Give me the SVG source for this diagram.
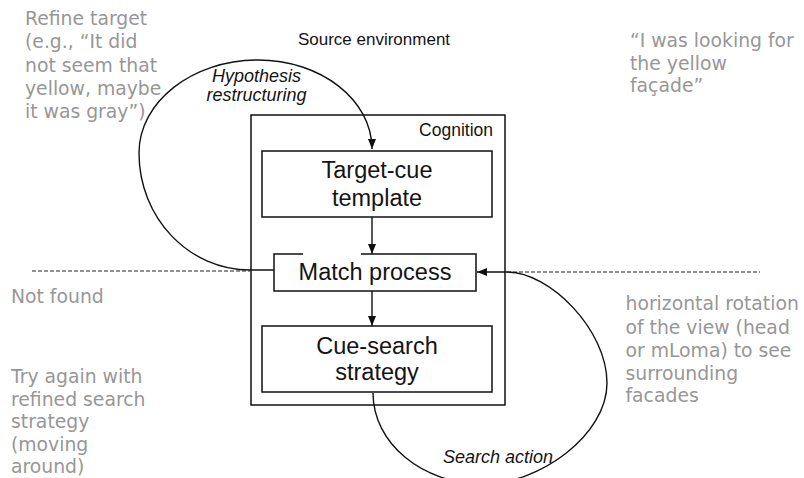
<svg xmlns="http://www.w3.org/2000/svg" width="804" height="478" viewBox="0 0 804 478">
  <style>
    .box { fill: none; stroke: #111; stroke-width: 1.5; }
    .label { font-family: "Liberation Sans", Arial, sans-serif; fill: #141414; }
    .big { font-size: 23.5px; text-anchor: middle; }
    .ital { font-style: italic; font-size: 18px; }
    .note { font-family: "DejaVu Sans", Verdana, sans-serif; font-size: 18.8px; fill: #979797; }
    .flow { fill: none; stroke: #111; stroke-width: 1.4; }
    .dash { fill: none; stroke: #6e6e6e; stroke-width: 1.3; stroke-dasharray: 4 2; }
  </style>
  <defs>
    <marker id="arrow" viewBox="0 0 10 8" refX="10" refY="4" markerWidth="10" markerHeight="8" markerUnits="userSpaceOnUse" orient="auto">
      <path d="M0,0 L10,4 L0,8 z" fill="#111"/>
    </marker>
  </defs>

  <rect width="804" height="478" fill="#ffffff"/>

  <!-- environment title -->
  <text class="label" x="374" y="45" font-size="17" text-anchor="middle" fill="#000">Source environment</text>

  <!-- cognition frame -->
  <g id="cognition">
    <rect class="box" x="251" y="115" width="254" height="290"/>
    <text class="label" x="493" y="136" font-size="17.5" text-anchor="end">Cognition</text>
  </g>

  <g id="target-cue-template">
    <rect class="box" x="262" y="151" width="230" height="66"/>
    <text class="label big" x="377" y="178">Target-cue</text>
    <text class="label big" x="377" y="206">template</text>
  </g>

  <g id="match-process">
    <path class="box" d="M303 254 L274 254 L274 291 L476 291 L476 254 L361 254"/>
    <text class="label big" x="375" y="280">Match process</text>
  </g>

  <g id="cue-search-strategy">
    <rect class="box" x="262" y="326" width="230" height="66"/>
    <text class="label big" x="377" y="354">Cue-search</text>
    <text class="label big" x="377" y="380">strategy</text>
  </g>

  <!-- connectors -->
  <g id="connectors">
    <line class="dash" x1="32" y1="271" x2="250" y2="271"/>
    <line class="dash" x1="507" y1="272" x2="760" y2="272"/>
    <line class="flow" x1="372" y1="217" x2="372" y2="254" marker-end="url(#arrow)"/>
    <line class="flow" x1="372" y1="291" x2="372" y2="326" marker-end="url(#arrow)"/>
    <!-- hypothesis restructuring loop -->
    <path class="flow" d="M274 270 L250 270 C189 270 139 218 139 153 C139 102 192 60 258 60 C321 60 372 100 372 149" marker-end="url(#arrow)"/>
    <!-- search action loop -->
    <path class="flow" d="M373 393 C373 443 422 484 483 484 C540 484 607 435 607 383 C607 330 550 272 507 272 L477 272" marker-end="url(#arrow)"/>
    <text class="label ital" x="256.5" y="81.5" text-anchor="middle">Hypothesis</text>
    <text class="label ital" x="256.5" y="100.5" text-anchor="middle">restructuring</text>
    <text class="label ital" x="443" y="463">Search action</text>
  </g>

  <!-- side notes -->
  <g id="notes">
    <text class="note" x="25" y="25">Refine target</text>
    <text class="note" x="25" y="48.3">(e.g., “It did</text>
    <text class="note" x="25" y="71.7">not seem that</text>
    <text class="note" x="25" y="95">yellow, maybe</text>
    <text class="note" x="25" y="118.3">it was gray”)</text>

    <text class="note" x="630" y="46.7">“I was looking for</text>
    <text class="note" x="630" y="70">the yellow</text>
    <text class="note" x="630" y="92">façade”</text>

    <text class="note" x="11" y="303.3">Not found</text>

    <text class="note" x="11" y="383.3">Try again with</text>
    <text class="note" x="11" y="405.5">refined search</text>
    <text class="note" x="11" y="428.3">strategy</text>
    <text class="note" x="11" y="451">(moving</text>
    <text class="note" x="11" y="473.3">around)</text>

    <text class="note" x="625.5" y="310">horizontal rotation</text>
    <text class="note" x="625.5" y="333.6">of the view (head</text>
    <text class="note" x="625.5" y="357">or mLoma) to see</text>
    <text class="note" x="625.5" y="380">surrounding</text>
    <text class="note" x="625.5" y="402">facades</text>
  </g>
</svg>
